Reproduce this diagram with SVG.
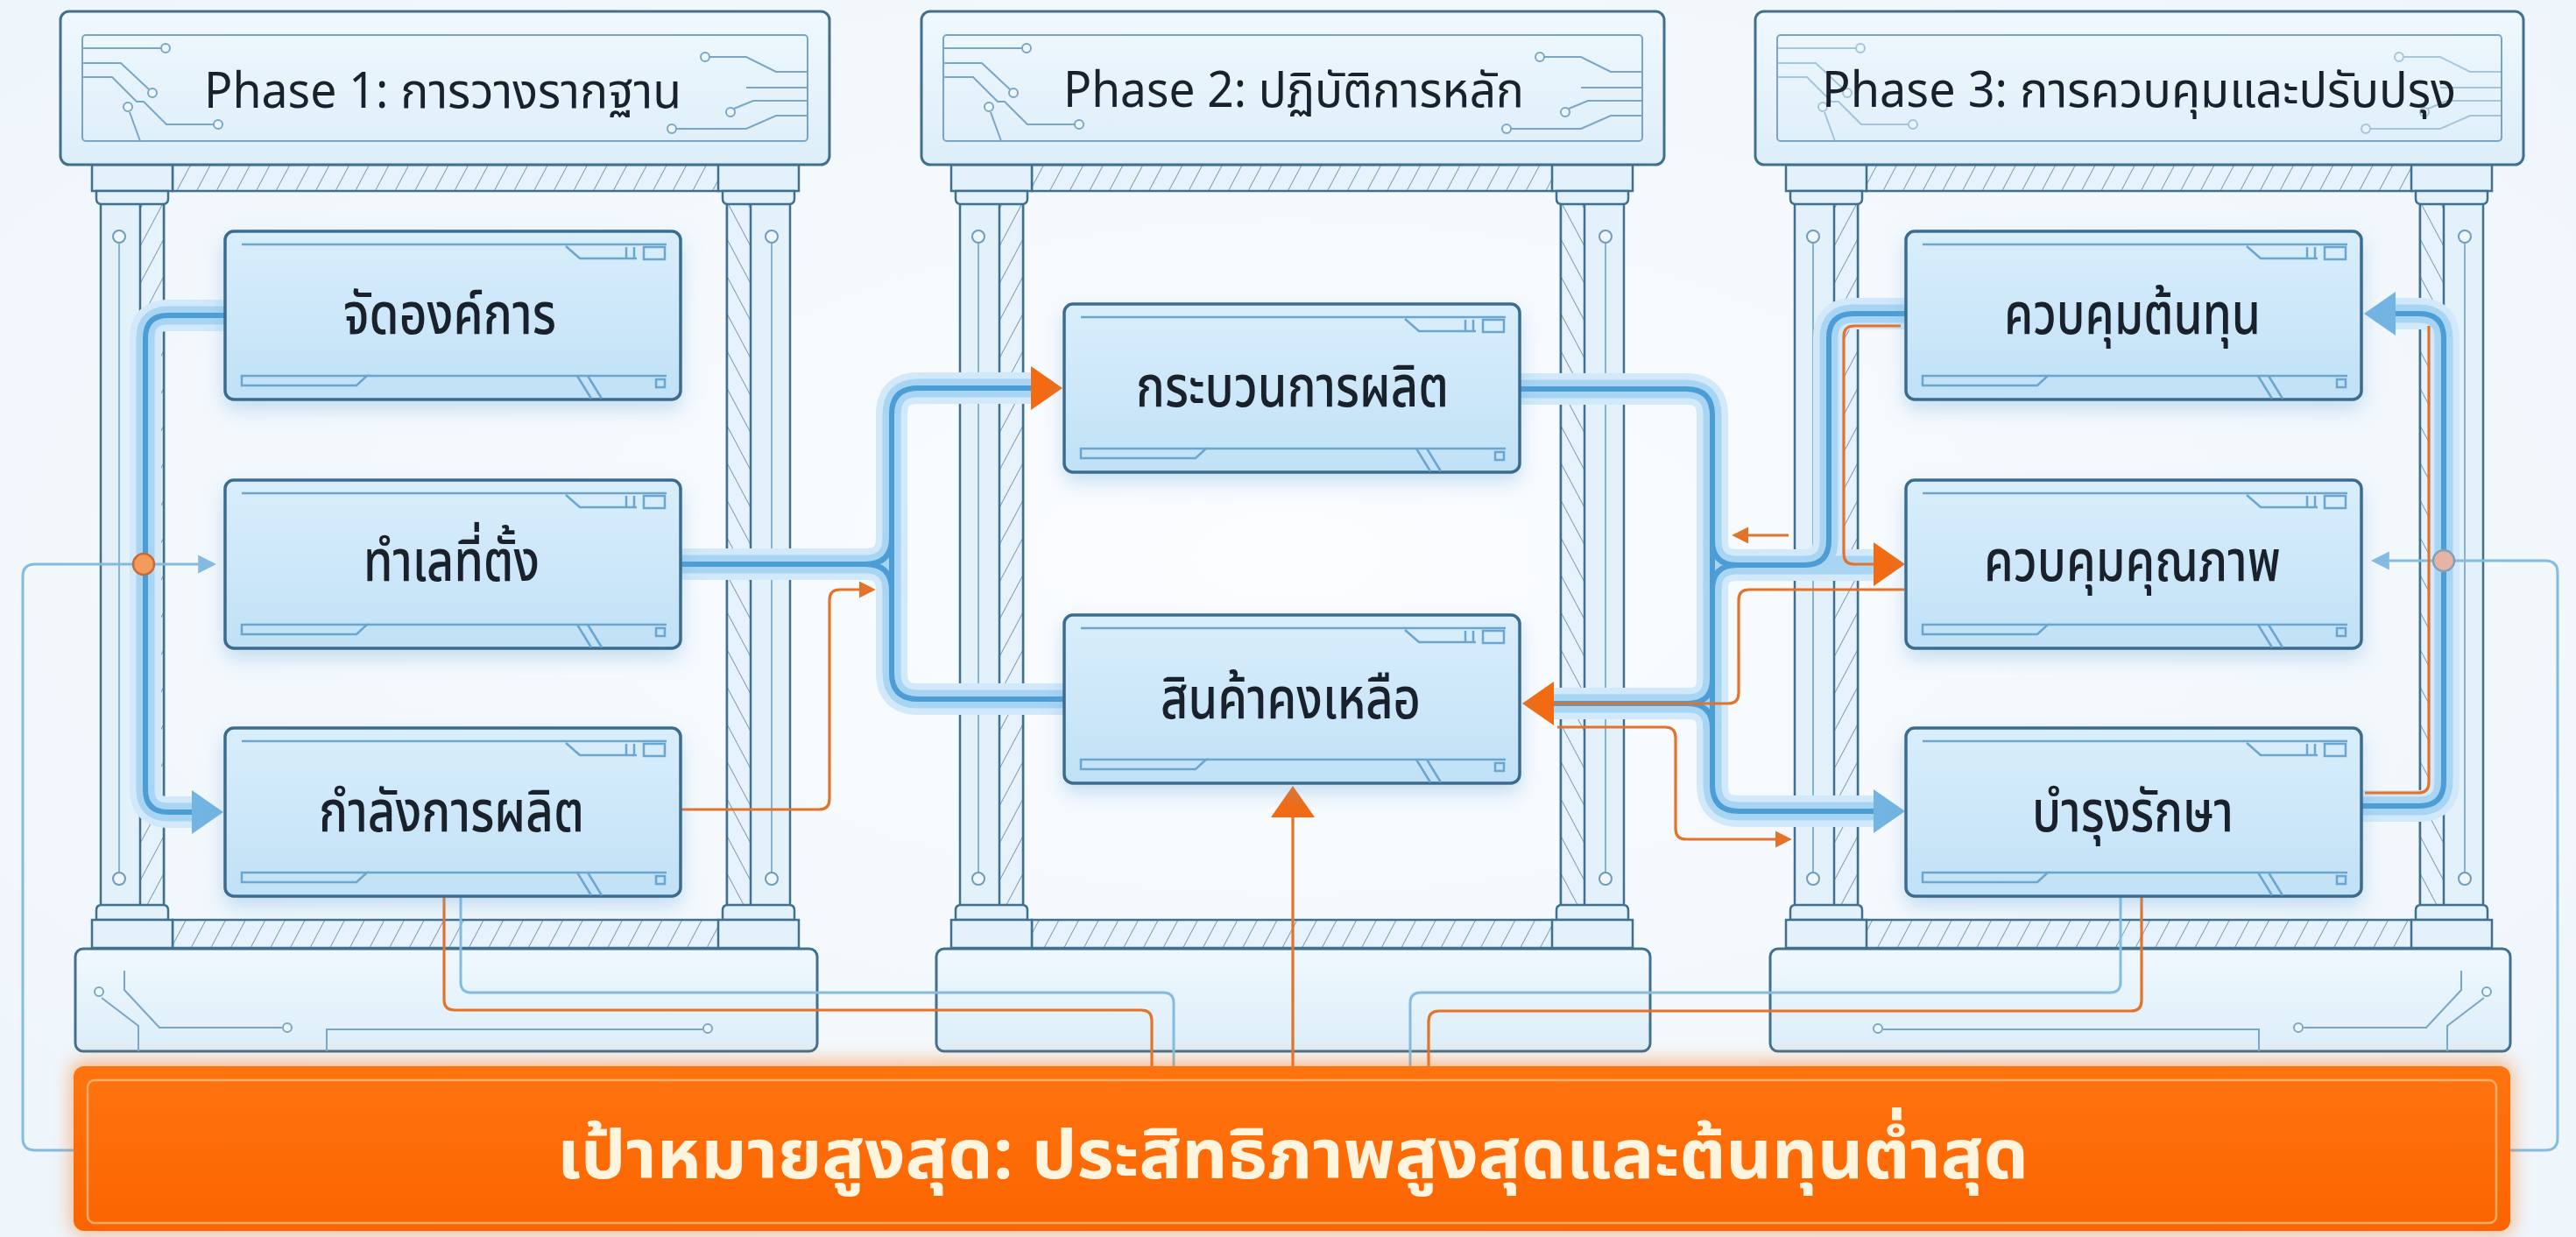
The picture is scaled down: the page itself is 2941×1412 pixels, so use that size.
<svg xmlns="http://www.w3.org/2000/svg" width="2941" height="1412" viewBox="0 0 2941 1412">
<defs>
  <style>
    .txt { font-family: "Noto Sans Thai", "Noto Sans", "DejaVu Sans", sans-serif; fill: #18212c; }
    .hdr-txt { font-size: 56px; }
    .node-txt { font-size: 66px; font-weight: 500; }
    .goal-txt { font-size: 78px; font-weight: 700; fill: #fff5df; }
    .frame { fill: url(#gFrame); stroke: #41708f; stroke-width: 3; }
    .frame-inner { fill: none; stroke: #79a5c2; stroke-width: 2; }
    .trace { fill: none; stroke: #7aa7c6; stroke-width: 2; }
    .trace-dot { fill: #eef7fd; stroke: #7aa7c6; stroke-width: 2; }
    .hatch { fill: url(#hatch); stroke: #41708f; stroke-width: 2.5; }
    .pillar { fill: #e3f1fb; stroke: #41708f; stroke-width: 2.5; }
    .col-line { fill: none; stroke: #86b3d2; stroke-width: 2; }
    .col-dot { fill: #eef7fd; stroke: #6f9cbb; stroke-width: 2; }
    .node-box { fill: url(#gNode); stroke: #3b6c8e; stroke-width: 3.5; }
    .deco { fill: none; stroke: #6aa6d0; stroke-width: 2.5; }
    .pipe-glow { fill: none; stroke: #d1e9fa; stroke-width: 36; stroke-linejoin: round; }
    .pipe-body { fill: none; stroke: #a8d5f3; stroke-width: 21; stroke-linejoin: round; }
    .pipe-core { fill: none; stroke: #4c9cd6; stroke-width: 6; stroke-linejoin: round; }
    .wire-o { fill: none; stroke: #e3722a; stroke-width: 3.2; }
    .wire-b { fill: none; stroke: #84bbe0; stroke-width: 3; }
    .arrow-o { fill: #f26a12; }
    .arrow-b { fill: #72b4e2; }
  </style>

  <linearGradient id="gFrame" x1="0" y1="0" x2="0" y2="1">
    <stop offset="0" stop-color="#eff8fe"/>
    <stop offset="1" stop-color="#ddeef9"/>
  </linearGradient>
  <linearGradient id="gNode" x1="0" y1="0" x2="0" y2="1">
    <stop offset="0" stop-color="#d9eefc"/>
    <stop offset="1" stop-color="#c1e1f6"/>
  </linearGradient>
  <linearGradient id="gGoal" x1="0" y1="0" x2="0" y2="1">
    <stop offset="0" stop-color="#ff7410"/>
    <stop offset="1" stop-color="#fb6400"/>
  </linearGradient>
  <radialGradient id="gBg" cx="0.5" cy="0.45" r="0.7">
    <stop offset="0" stop-color="#fbfdff"/>
    <stop offset="1" stop-color="#eef5fb"/>
  </radialGradient>

  <pattern id="hatch" patternUnits="userSpaceOnUse" width="20" height="20" patternTransform="rotate(28)">
    <rect width="20" height="20" fill="#e6f3fc"/>
    <line x1="0" y1="0" x2="0" y2="20" stroke="#5f86a2" stroke-width="1.6"/>
  </pattern>

  <filter id="shadow" x="-10%" y="-15%" width="120%" height="150%">
    <feDropShadow dx="0" dy="10" stdDeviation="11" flood-color="#6aa8d8" flood-opacity="0.35"/>
  </filter>
  <filter id="blur" x="-5%" y="-40%" width="110%" height="180%">
    <feGaussianBlur stdDeviation="10"/>
  </filter>

  <marker id="mO" viewBox="0 0 10 10" refX="8" refY="5" markerWidth="6" markerHeight="6.5" orient="auto">
    <path d="M0,0 L10,5 L0,10 Z" fill="#e3722a"/>
  </marker>
  <marker id="mB" viewBox="0 0 10 10" refX="8" refY="5" markerWidth="7" markerHeight="7.5" orient="auto">
    <path d="M0,0 L10,5 L0,10 Z" fill="#84bbe0"/>
  </marker>

  <!-- big arrowhead, tip at (36,0) -->
  <path id="ah" d="M0,-25 L36,0 L0,25 Z"/>

  <!-- panel trim inside each node (520 x 192) -->
  <g id="nodeDeco" class="deco">
    <path d="M19,15 H504"/>
    <path d="M389,17 L405,31 H470"/>
    <path d="M458,18 V31 M467,18 V31"/>
    <rect x="478" y="18" width="24" height="14"/>
    <path d="M162,165 H504"/>
    <path d="M19,165 H162 L150,176 H19 Z"/>
    <path d="M402,165 L418,191 M414,165 L430,191"/>
    <rect x="492" y="169" width="10" height="9"/>
  </g>

  <!-- pillar: capital, shaft, base capital; width 92 -->
  <g id="pillar">
    <rect class="pillar" x="10" y="231" width="72" height="804"/>
    <rect class="hatch" x="55" y="231" width="27" height="804"/>
    <line class="col-line" x1="31" y1="277" x2="31" y2="996"/>
    <circle class="col-dot" cx="31" cy="270" r="7"/>
    <circle class="col-dot" cx="31" cy="1003" r="7"/>
    <rect class="pillar" x="0" y="188" width="92" height="30"/>
    <path class="pillar" d="M5,218 H87 V227 Q87,233 81,233 H11 Q5,233 5,227 Z"/>
    <path class="pillar" d="M5,1050 V1039 Q5,1033 11,1033 H81 Q87,1033 87,1039 V1050 Z"/>
    <rect class="pillar" x="0" y="1050" width="92" height="32"/>
  </g>

  <!-- circuit traces in the header plates -->
  <g id="hdrTraceL">
    <path class="trace" d="M0,15 H90 M0,32 H44 L76,62 M0,48 H34 L62,76 H70 L96,102 H150 M54,88 L66,121"/>
    <circle class="trace-dot" cx="95" cy="15" r="5"/>
    <circle class="trace-dot" cx="80" cy="66" r="5"/>
    <circle class="trace-dot" cx="155" cy="102" r="5"/>
    <circle class="trace-dot" cx="52" cy="82" r="5"/>
  </g>
  <g id="hdrTraceR">
    <path class="trace" d="M-112,25 H-70 L-36,42 H0 M-70,60 H0 M-84,84 L-62,75 H0 M-150,107 H-70 L-36,92 H0"/>
    <circle class="trace-dot" cx="-117" cy="25" r="5"/>
    <circle class="trace-dot" cx="-88" cy="88" r="5"/>
    <circle class="trace-dot" cx="-155" cy="107" r="5"/>
  </g>
  <g id="baseTrace">
    <path class="trace" d="M30,56 L72,88 V117 M56,25 V47 L96,90 H236 M287,117 V92 H716"/>
    <circle class="trace-dot" cx="27" cy="49" r="5"/>
    <circle class="trace-dot" cx="242" cy="90" r="5"/>
    <circle class="trace-dot" cx="722" cy="91" r="5"/>
  </g>

  <!-- pipe routes, stroked three times (glow, body, core) -->
  <path id="pp1" d="M257,360 H192 Q166,360 166,386 V901 Q166,927 192,927 H224"/>
  <path id="pp2" d="M777,644 H988 Q1018,644 1018,614 M988,644 Q1018,644 1018,674"/>
  <path id="pp3" d="M1182,443 H1048 Q1018,443 1018,473 V768 Q1018,798 1048,798 H1216"/>
  <path id="pp4" d="M1735,444 H1925 Q1955,444 1955,474 V896 Q1955,926 1985,926 H2146"/>
  <path id="pp5" d="M1955,617 Q1955,645 1983,645 H2060 Q2088,645 2088,617 V386 Q2088,358 2116,358 H2177 M1955,673 Q1955,645 1983,645"/>
  <path id="pp5b" d="M2060,645 H2146"/>
  <path id="pp6" d="M1955,775 Q1955,803 1927,803 H1768 M1955,831 Q1955,803 1927,803"/>
  <path id="pp7" d="M2696,920 H2762 Q2790,920 2790,892 V386 Q2790,358 2762,358 H2726"/>
</defs>

<rect width="2941" height="1412" fill="url(#gBg)"/>

<!-- ===== Phase frames ===== -->
<g id="phase-1">
  <rect class="hatch" x="197" y="188" width="624" height="30"/>
  <rect class="hatch" x="197" y="1050" width="624" height="32"/>
  <use href="#pillar" transform="translate(105,0)"/>
  <use href="#pillar" transform="translate(912,0) scale(-1,1)"/>
  <rect class="frame" x="69" y="13" width="878" height="175" rx="10"/>
  <rect class="frame-inner" x="94" y="40" width="828" height="121" rx="4"/>
  <use href="#hdrTraceL" transform="translate(94,40)"/>
  <use href="#hdrTraceR" transform="translate(922,40)"/>
  <text class="txt hdr-txt" x="233" y="123" textLength="545" lengthAdjust="spacingAndGlyphs">Phase 1: การวางรากฐาน</text>
  <rect class="frame" x="86" y="1083" width="847" height="117" rx="9"/>
  <use href="#baseTrace" transform="translate(86,1083)"/>
</g>

<g id="phase-2">
  <rect class="hatch" x="1178" y="188" width="595" height="30"/>
  <rect class="hatch" x="1178" y="1050" width="595" height="32"/>
  <use href="#pillar" transform="translate(1086,0)"/>
  <use href="#pillar" transform="translate(1864,0) scale(-1,1)"/>
  <rect class="frame" x="1052" y="13" width="848" height="175" rx="10"/>
  <rect class="frame-inner" x="1077" y="40" width="798" height="121" rx="4"/>
  <use href="#hdrTraceL" transform="translate(1077,40)"/>
  <use href="#hdrTraceR" transform="translate(1875,40)"/>
  <text class="txt hdr-txt" x="1214" y="122" textLength="526" lengthAdjust="spacingAndGlyphs">Phase 2: ปฏิบัติการหลัก</text>
  <rect class="frame" x="1069" y="1083" width="815" height="117" rx="9"/>
</g>

<g id="phase-3">
  <rect class="hatch" x="2130" y="188" width="624" height="30"/>
  <rect class="hatch" x="2130" y="1050" width="624" height="32"/>
  <use href="#pillar" transform="translate(2039,0)"/>
  <use href="#pillar" transform="translate(2845,0) scale(-1,1)"/>
  <rect class="frame" x="2004" y="13" width="877" height="175" rx="10"/>
  <rect class="frame-inner" x="2029" y="40" width="827" height="121" rx="4"/>
  <use href="#hdrTraceL" transform="translate(2029,40)" opacity="0.6"/>
  <use href="#hdrTraceR" transform="translate(2856,40)" opacity="0.6"/>
  <text class="txt hdr-txt" x="2080" y="122" textLength="724" lengthAdjust="spacingAndGlyphs">Phase 3: การควบคุมและปรับปรุง</text>
  <rect class="frame" x="2021" y="1083" width="845" height="117" rx="9"/>
  <use href="#baseTrace" transform="translate(2866,1083) scale(-1,1)"/>
</g>

<!-- ===== Connectors ===== -->
<g id="connectors">
  <g class="pipe-glow">
    <use href="#pp1"/><use href="#pp2"/><use href="#pp3"/><use href="#pp4"/>
    <use href="#pp5"/><use href="#pp5b"/><use href="#pp6"/><use href="#pp7"/>
  </g>
  <g class="pipe-body">
    <use href="#pp1"/><use href="#pp2"/><use href="#pp3"/><use href="#pp4"/>
    <use href="#pp5"/><use href="#pp5b"/><use href="#pp6"/><use href="#pp7"/>
  </g>
  <g class="pipe-core">
    <use href="#pp1"/><use href="#pp2"/><use href="#pp3"/><use href="#pp4"/>
    <use href="#pp5"/><use href="#pp6"/><use href="#pp7"/>
  </g>

  <!-- thin blue feeds from the goal bar -->
  <path class="wire-b" d="M84,1313 H40 Q26,1313 26,1299 V658 Q26,644 40,644 H243" marker-end="url(#mB)"/>
  <path class="wire-b" d="M2866,1313 H2906 Q2920,1313 2920,1299 V654 Q2920,640 2906,640 H2711" marker-end="url(#mB)"/>
  <path class="wire-b" d="M526,1022 V1121 Q526,1133 538,1133 H1328 Q1340,1133 1340,1145 V1217"/>
  <path class="wire-b" d="M2421,1022 V1121 Q2421,1133 2409,1133 H1622 Q1610,1133 1610,1145 V1217"/>

  <!-- orange signal lines -->
  <path class="wire-o" d="M777,924 H935 Q947,924 947,912 V685 Q947,673 959,673 H996" marker-end="url(#mO)"/>
  <path class="wire-o" d="M2170,372 H2117 Q2105,372 2105,384 V632 Q2105,644 2117,644 H2142"/>
  <path class="wire-o" d="M2174,673 H1997 Q1985,673 1985,685 V791 Q1985,803 1973,803 H1772"/>
  <path class="wire-o" d="M1778,830 H1901 Q1913,830 1913,842 V946 Q1913,958 1925,958 H2042" marker-end="url(#mO)"/>
  <path class="wire-o" d="M2042,611 H1981" marker-end="url(#mO)"/>
  <path class="wire-o" d="M2700,905 H2761 Q2773,905 2773,893 V372"/>
  <path class="wire-o" d="M507,1022 V1141 Q507,1153 519,1153 H1303 Q1315,1153 1315,1165 V1217"/>
  <path class="wire-o" d="M1476,1217 V930"/>
  <path class="wire-o" d="M2445,1022 V1142 Q2445,1154 2433,1154 H1643 Q1631,1154 1631,1166 V1217"/>

  <!-- arrowheads -->
  <use href="#ah" class="arrow-b" transform="translate(219,927)"/>
  <use href="#ah" class="arrow-o" transform="translate(1177,443)"/>
  <use href="#ah" class="arrow-o" transform="translate(1774,803) scale(-1,1)"/>
  <use href="#ah" class="arrow-o" transform="translate(1476,933) rotate(-90)"/>
  <use href="#ah" class="arrow-o" transform="translate(2139,644)"/>
  <use href="#ah" class="arrow-b" transform="translate(2139,926)"/>
  <use href="#ah" class="arrow-b" transform="translate(2735,358) scale(-1,1)"/>

  <!-- junction dots -->
  <circle cx="164" cy="644" r="12" fill="#f39a5c" stroke="#c86b33" stroke-width="2.5"/>
  <circle cx="2790" cy="640" r="12" fill="#e7b3a4" stroke="#7fa2bb" stroke-width="2.5"/>
</g>

<!-- ===== Nodes ===== -->
<g id="node-org">
  <g transform="translate(257,264)"><rect class="node-box" width="520" height="192" rx="10" filter="url(#shadow)"/><use href="#nodeDeco"/></g>
  <text class="txt node-txt" x="392" y="381" textLength="243" lengthAdjust="spacingAndGlyphs">จัดองค์การ</text>
</g>
<g id="node-location">
  <g transform="translate(257,548)"><rect class="node-box" width="520" height="192" rx="10" filter="url(#shadow)"/><use href="#nodeDeco"/></g>
  <text class="txt node-txt" x="415" y="663" textLength="201" lengthAdjust="spacingAndGlyphs">ทำเลที่ตั้ง</text>
</g>
<g id="node-capacity">
  <g transform="translate(257,831)"><rect class="node-box" width="520" height="192" rx="10" filter="url(#shadow)"/><use href="#nodeDeco"/></g>
  <text class="txt node-txt" x="364" y="949" textLength="303" lengthAdjust="spacingAndGlyphs">กำลังการผลิต</text>
</g>
<g id="node-process">
  <g transform="translate(1215,347)"><rect class="node-box" width="520" height="192" rx="10" filter="url(#shadow)"/><use href="#nodeDeco"/></g>
  <text class="txt node-txt" x="1297" y="464" textLength="357" lengthAdjust="spacingAndGlyphs">กระบวนการผลิต</text>
</g>
<g id="node-inventory">
  <g transform="translate(1215,702)"><rect class="node-box" width="520" height="192" rx="10" filter="url(#shadow)"/><use href="#nodeDeco"/></g>
  <text class="txt node-txt" x="1325" y="820" textLength="297" lengthAdjust="spacingAndGlyphs">สินค้าคงเหลือ</text>
</g>
<g id="node-cost">
  <g transform="translate(2176,264)"><rect class="node-box" width="520" height="192" rx="10" filter="url(#shadow)"/><use href="#nodeDeco"/></g>
  <text class="txt node-txt" x="2288" y="381" textLength="293" lengthAdjust="spacingAndGlyphs">ควบคุมต้นทุน</text>
</g>
<g id="node-quality">
  <g transform="translate(2176,548)"><rect class="node-box" width="520" height="192" rx="10" filter="url(#shadow)"/><use href="#nodeDeco"/></g>
  <text class="txt node-txt" x="2265" y="663" textLength="339" lengthAdjust="spacingAndGlyphs">ควบคุมคุณภาพ</text>
</g>
<g id="node-maintenance">
  <g transform="translate(2176,831)"><rect class="node-box" width="520" height="192" rx="10" filter="url(#shadow)"/><use href="#nodeDeco"/></g>
  <text class="txt node-txt" x="2320" y="949" textLength="230" lengthAdjust="spacingAndGlyphs">บำรุงรักษา</text>
</g>

<!-- ===== Goal bar ===== -->
<g id="goal">
  <rect x="80" y="1210" width="2790" height="200" rx="16" fill="#ff7a1a" opacity="0.45" filter="url(#blur)"/>
  <rect x="84" y="1217" width="2782" height="188" rx="12" fill="url(#gGoal)"/>
  <rect x="100" y="1233" width="2750" height="163" rx="8" fill="none" stroke="#ffad66" stroke-width="2.5"/>
  <text class="txt goal-txt" x="636" y="1345" textLength="1680" lengthAdjust="spacingAndGlyphs">เป้าหมายสูงสุด: ประสิทธิภาพสูงสุดและต้นทุนต่ำสุด</text>
</g>
</svg>
